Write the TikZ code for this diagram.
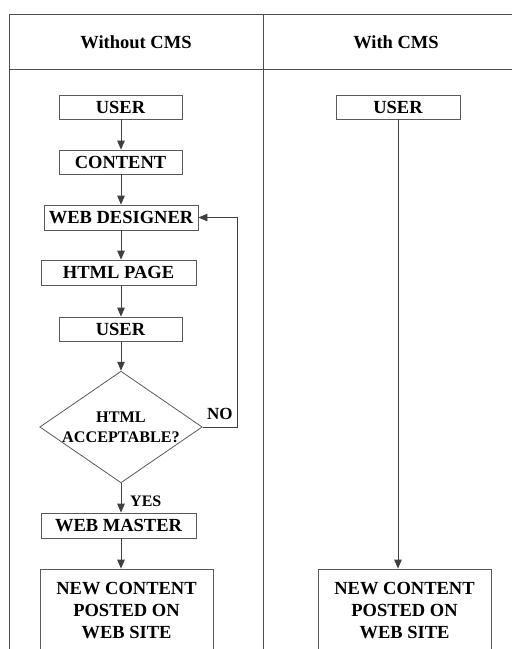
\documentclass[tikz,border=0pt]{standalone}
\usepackage{fontspec}
\setmainfont{Liberation Serif}
\usetikzlibrary{shapes.geometric,arrows.meta,calc}
\begin{document}
\begin{tikzpicture}[x=1pt,y=-1pt,
  frame/.style={draw=black!70,line width=0.8pt},
  boxnode/.style={draw=black!65,line width=0.8pt,inner sep=0pt,font=\fontsize{18.5}{20}\selectfont\bfseries,align=center},
  bignode/.style={draw=black!65,line width=0.8pt,inner sep=0pt,font=\fontsize{18.5}{22}\selectfont\bfseries,align=center,minimum width=173pt,minimum height=83pt},
  arr/.style={draw=black!75,line width=0.8pt,-{Triangle[length=9pt,width=7.5pt]}},
  lbl/.style={font=\fontsize{16}{18}\selectfont\bfseries,inner sep=0pt}]
\useasboundingbox (0,0) rectangle (512,649);
% table frame
\draw[frame] (9,649) -- (9,14) -- (520,14);
\draw[frame] (9,69) -- (520,69);
\draw[frame] (263,14) -- (263,649);
\node[font=\fontsize{18.5}{20}\selectfont\bfseries] (h1) at (136,42) {Without CMS};
\node[font=\fontsize{18.5}{20}\selectfont\bfseries] (h2) at (396,42) {With CMS};
% left column
\coordinate (axis) at (121,0);
\node[boxnode,minimum width=123pt,minimum height=24pt] (u1) at (120.5,107) {USER};
\node[boxnode,minimum width=123pt,minimum height=24pt] (c1) at (120.5,162) {CONTENT};
\node[boxnode,minimum width=154pt,minimum height=25pt] (wd) at (121,217.5) {WEB DESIGNER};
\node[boxnode,minimum width=155pt,minimum height=25pt] (hp) at (118.5,272.5) {HTML PAGE};
\node[boxnode,minimum width=123pt,minimum height=24pt] (u2) at (120.5,329) {USER};
\node[diamond,aspect=1.4545,draw=black!65,line width=0.8pt,inner sep=0pt,minimum width=160pt,minimum height=110pt,
  font=\fontsize{16.2}{20}\selectfont\bfseries,align=center] (dia) at (121,427) {HTML\\ACCEPTABLE?};
\node[boxnode,minimum width=155pt,minimum height=25pt] (wm) at (118.5,525.5) {WEB MASTER};
\node[bignode] (nc1) at (126.5,610.5) {NEW CONTENT\\POSTED ON\\WEB SITE};
\draw[arr] (axis|-u1.south) -- (axis|-c1.north);
\draw[arr] (axis|-c1.south) -- (axis|-wd.north);
\draw[arr] (axis|-wd.south) -- (axis|-hp.north);
\draw[arr] (axis|-hp.south) -- (axis|-u2.north);
\draw[arr] (axis|-u2.south) -- (dia.north);
\draw[arr] (dia.south) -- (axis|-wm.north);
\draw[arr] (axis|-wm.south) -- (axis|-nc1.north);
\coordinate (loop) at (237,0);
\draw[arr] (dia.east) -- (loop|-dia.east) -- (loop|-wd.east) -- (wd.east);
\node[lbl,font=\fontsize{17}{18}\selectfont\bfseries,anchor=base west] (no) at (207,419) {NO};
\node[lbl,anchor=base west] (yes) at (130,506) {YES};
% right column
\node[boxnode,minimum width=124pt,minimum height=24pt] (u3) at (398,107) {USER};
\node[bignode] (nc2) at (404.5,610.5) {NEW CONTENT\\POSTED ON\\WEB SITE};
\draw[arr] (u3.south) -- (u3.south|-nc2.north);
\end{tikzpicture}
\end{document}
